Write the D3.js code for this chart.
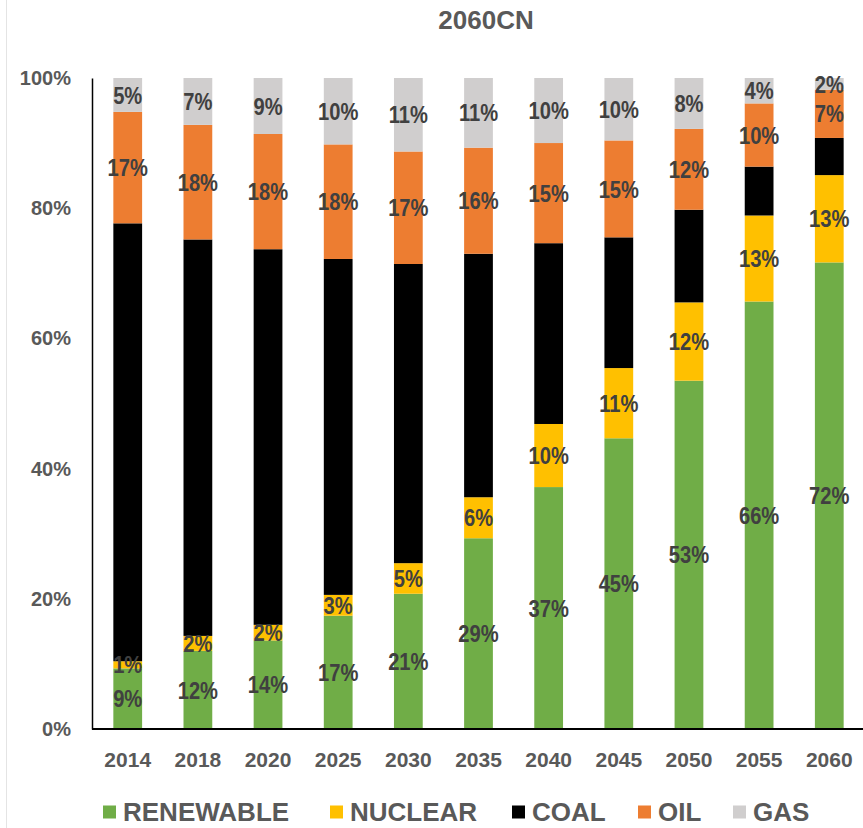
<!DOCTYPE html>
<html><head><meta charset="utf-8">
<script src="https://cdn.jsdelivr.net/npm/d3@7"></script>
<style>
html,body{margin:0;padding:0;background:#fff;}
svg{display:block;font-family:"Liberation Sans",Arial,sans-serif;}
</style></head>
<body>
<svg id="chart" width="863" height="828"></svg>
<script>
// ---- data (percent shares) ----
const years = ["2014","2018","2020","2025","2030","2035","2040","2045","2050","2055","2060"];
const renewable = [9.3, 12.0, 13.6, 17.4, 20.8, 29.3, 37.2, 44.7, 53.4, 65.6, 71.6];
const nuclear   = [1.1,  2.3,  2.4,  3.2,  4.7,  6.3,  9.7, 10.8, 12.0, 13.2, 13.4];
const coal      = [67.2, 60.9, 57.7, 51.6, 46.0, 37.4, 27.8, 20.1, 14.2, 7.5, 5.7];
const oil       = [17.1, 17.6, 17.7, 17.6, 17.3, 16.3, 15.4, 14.9, 12.4, 9.7, 7.4];
const gas       = [5.2,  7.2,  8.6, 10.2, 11.3, 10.7, 10.0,  9.6,  7.8, 3.9, 1.8];
const seriesNames = ["RENEWABLE","NUCLEAR","COAL","OIL","GAS"];
const seriesColors = ["#70AD47","#FFC000","#000000","#ED7D31","#D0CECE"];
const labelled = {RENEWABLE:true, NUCLEAR:true, COAL:false, OIL:true, GAS:true};
const yTicks = [0, 0.2, 0.4, 0.6, 0.8, 1.0];
const title = "2060CN";

const seriesData = [renewable, nuclear, coal, oil, gas];
const rows = years.map((y,i)=>{
  const r = {year:y};
  seriesNames.forEach((s,k)=> r[s] = seriesData[k][i]);
  return r;
});

const svg = d3.select("#chart");
const x = d3.scaleBand().domain(years).range([93, 864]).paddingInner(0.59).paddingOuter(0.29);
const y = d3.scaleLinear().domain([0,1]).range([729, 78]);
const color = d3.scaleOrdinal().domain(seriesNames).range(seriesColors);

const stack = d3.stack().keys(seriesNames).offset(d3.stackOffsetExpand);
const stacked = stack(rows);

// faint chart border
svg.append("line").attr("x1",6.5).attr("x2",6.5).attr("y1",0).attr("y2",828)
  .attr("stroke","#E4E4E4").attr("stroke-width",1);

// title
svg.append("text").attr("x",486).attr("y",29).attr("text-anchor","middle")
  .attr("font-size",26).attr("font-weight","bold").attr("fill","#595959")
  .text(title);

// bars
const layers = svg.append("g").selectAll("g").data(stacked).join("g")
  .attr("fill", d=>color(d.key));
layers.selectAll("rect").data(d=>d).join("rect")
  .attr("x", d=>x(d.data.year))
  .attr("width", x.bandwidth())
  .attr("y", d=>y(d[1]))
  .attr("height", d=>y(d[0])-y(d[1]));

// data labels
const lab = svg.append("g");
stacked.forEach((layer,k)=>{
  const key = layer.key;
  if(!labelled[key]) return;
  layer.forEach((d,i)=>{
    const val = seriesData[k][i];
    const cx = x(d.data.year) + x.bandwidth()/2;
    const cy = (y(d[0]) + y(d[1]))/2;
    lab.append("text")
      .attr("x", cx).attr("y", cy).attr("dy","0.36em")
      .attr("text-anchor","middle")
      .attr("font-size",24).attr("font-weight","bold").attr("fill","#404040")
      .attr("transform",`translate(${cx},0) scale(0.84,1) translate(${-cx},0)`)
      .text(Math.round(val)+"%");
  });
});

// y axis
const yAxis = svg.append("g").attr("transform","translate(92,0)")
  .call(d3.axisLeft(y).tickValues(yTicks).tickSize(0).tickPadding(21).tickFormat(d3.format(".0%")));
yAxis.select(".domain").attr("stroke","#000").attr("stroke-width",1.5);
yAxis.selectAll("text").attr("font-size",20).attr("font-weight","bold").attr("fill","#595959")
  .attr("font-family","Liberation Sans, Arial, sans-serif");

// x axis
const xAxis = svg.append("g").attr("transform","translate(0,729)")
  .call(d3.axisBottom(x).tickSize(0).tickPadding(23));
xAxis.select(".domain").attr("stroke","#000").attr("stroke-width",2).attr("d","M92,0H863");
xAxis.selectAll("text").attr("font-size",21).attr("font-weight","bold").attr("fill","#595959")
  .attr("font-family","Liberation Sans, Arial, sans-serif");

// legend
const legendX = [103, 330, 512, 638, 733];
const leg = svg.append("g");
seriesNames.forEach((s,k)=>{
  const g = leg.append("g").attr("transform",`translate(${legendX[k]},812)`);
  g.append("rect").attr("x",0).attr("y",-6.5).attr("width",13).attr("height",13).attr("fill",color(s));
  g.append("text").attr("x",20).attr("y",0).attr("dy","0.35em")
    .attr("font-size",26).attr("font-weight","bold").attr("fill","#595959").text(s);
});
</script>
</body></html>
